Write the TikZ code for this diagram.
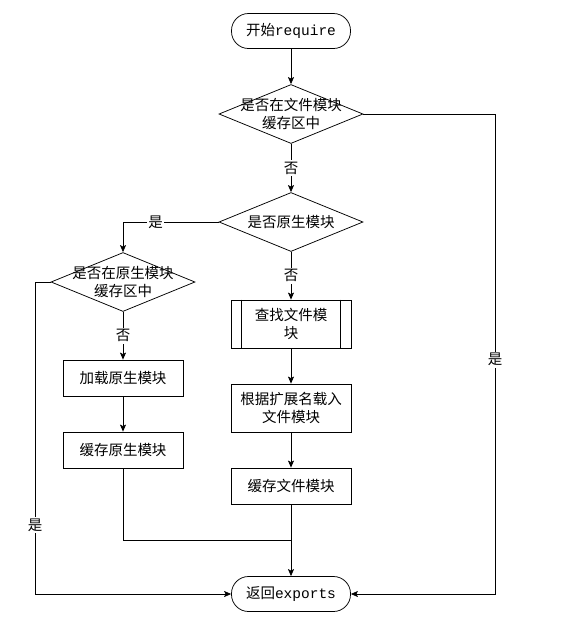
\documentclass[tikz,border=0pt]{standalone}
\usepackage{fontspec}
\setmainfont{Noto Sans CJK SC}
\setmonofont{Liberation Mono}
\usetikzlibrary{arrows.meta,shapes.geometric}

\begin{document}
\begin{tikzpicture}[x=1pt, y=-1pt, line width=0.75pt, font=\fontsize{14.5}{18.5}\selectfont,
  terminal/.style={draw, rounded corners=17pt, minimum width=119pt, minimum height=35pt, inner sep=0pt},
  decision/.style={draw, diamond, inner sep=0pt, minimum width=144pt, minimum height=59pt},
  process/.style={draw, align=center, minimum width=120pt, minimum height=#1, inner sep=0pt},
  process/.default=36pt,
  arrow/.style={-{Stealth[length=7pt, width=6pt, inset=1.5pt]}},
  branch/.style={fill=white, inner sep=1.5pt}]
  \useasboundingbox (0,0) rectangle (564,630);

  % --- main column ---
  \node[terminal] (start) at (291,31) {开始\texttt{require}};
  \node[decision, label={[align=center]center:{是否在文件模块\\缓存区中}}] (filecache) at (291,114) {};
  \node[decision, label={center:是否原生模块}] (isnative) at (291,222) {};
  \node[process=48pt] (find) at (291,324) {查找文件模\\块};
  \draw ([xshift=11pt]find.north west) -- ([xshift=11pt]find.south west);
  \draw ([xshift=-11pt]find.north east) -- ([xshift=-11pt]find.south east);
  \node[process=48pt] (loadfile) at (291,408) {根据扩展名载入\\文件模块};
  \node[process] (cachefile) at (291,486) {缓存文件模块};
  \node[terminal] (finish) at (291,594) {返回\texttt{exports}};

  % --- native column ---
  \node[decision, label={[align=center]center:{是否在原生模块\\缓存区中}}] (nativecache) at (123,282) {};
  \node[process] (loadnative) at (123,378) {加载原生模块};
  \node[process] (cachenative) at (123,450) {缓存原生模块};

  % turning points
  \coordinate (rightturn) at (495,114);
  \coordinate (leftturn) at (35,282);
  \coordinate (merge) at (291,540);

  % --- connectors ---
  \draw[arrow] (start) -- (filecache);
  \draw[arrow] (filecache) -- node[branch] {否} (isnative);
  \draw[arrow] (isnative.west) -| node[branch, pos=0.33] {是} (nativecache.north);
  \draw[arrow] (isnative) -- node[branch] {否} (find);
  \draw[arrow] (find) -- (loadfile);
  \draw[arrow] (loadfile) -- (cachefile);
  \draw[arrow] (cachefile) -- (finish);
  \draw[arrow] (nativecache) -- node[branch] {否} (loadnative);
  \draw[arrow] (loadnative) -- (cachenative);
  \draw (cachenative.south) |- (merge);
  \draw[arrow] (nativecache.west) -- (leftturn) |- node[branch, pos=0.39] {是} (finish.west);
  \draw[arrow] (filecache.east) -- (rightturn) |- node[branch, pos=0.256] {是} (finish.east);
\end{tikzpicture}
\end{document}
